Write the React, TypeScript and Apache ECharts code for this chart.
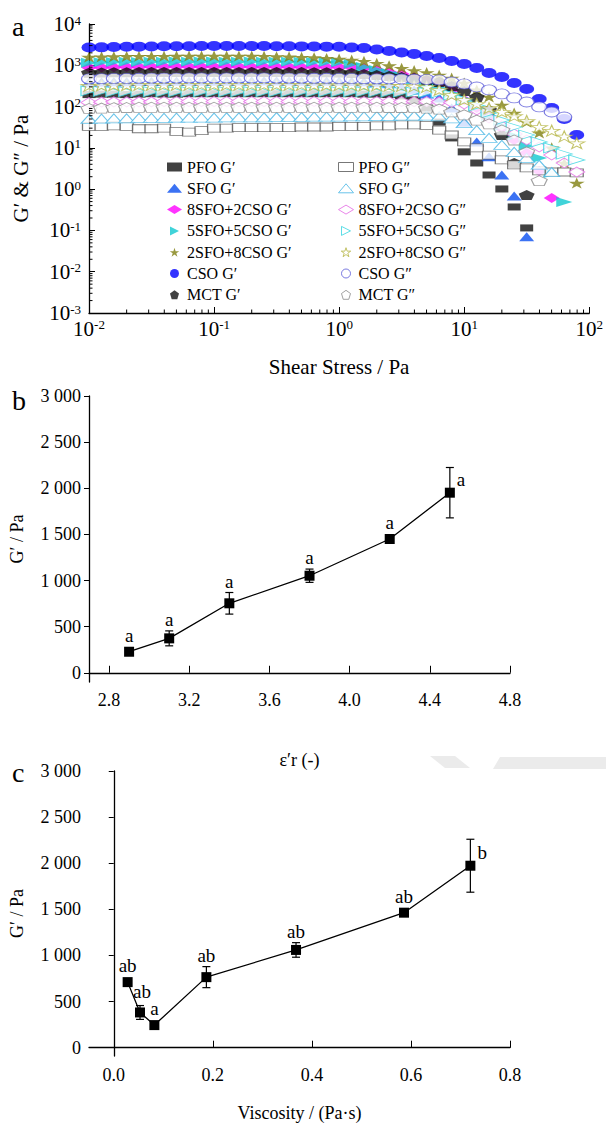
import React, { useEffect, useRef } from "react";
import * as echarts from "echarts";

const FONT = "'Liberation Serif', 'Times New Roman', serif";

// ---------- Panel a : stress sweep ----------
const shearStress = [
  0.01, 0.0126, 0.0158, 0.02, 0.0251, 0.0316, 0.0398, 0.0501, 0.0631, 0.0794,
  0.1, 0.126, 0.158, 0.2, 0.251, 0.316, 0.398, 0.501, 0.631, 0.794,
  1, 1.26, 1.58, 2, 2.51, 3.16, 3.98, 5.01, 6.31, 7.94,
  10, 12.6, 15.8, 20, 25.1, 31.6, 39.8, 50.1, 63.1, 79.4,
];

const pfoG1 = [
  195, 200, 200, 195, 200, 205, 200, 200, 205, 205,
  205, 205, 205, 205, 205, 205, 205, 205, 205, 205,
  205, 205, 200, 200, 195, 181, 145, 92, 42, 17.4,
  8.0, 4.3, 2.2, 1.01, 0.37, 0.115, null, null, null, null,
];
const sfoG1 = [
  390, 395, 400, 400, 405, 405, 410, 410, 410, 410,
  410, 410, 415, 415, 415, 415, 415, 410, 410, 410,
  410, 405, 400, 390, 353, 298, 253, 202, 162, 92,
  42, 13.9, 6.1, 2.2, 0.68, 0.07, null, null, null, null,
];
const s82G1 = [
  880, 890, 900, 910, 910, 920, 920, 920, 920, 920,
  920, 920, 920, 910, 910, 910, 910, 900, 900, 900,
  900, 885, 861, 770, 689, 616, 521, 441, 353, 253,
  145, 92, 56, 30, 15.5, 7.5, 2.76, 0.61, null, null,
];
const s55G1 = [
  1150, 1180, 1200, 1220, 1200, 1210, 1220, 1230, 1220, 1230,
  1230, 1220, 1220, 1230, 1220, 1220, 1210, 1210, 1200, 1200,
  1180, 1075, 910, 770, 651, 551, 441, 353, 282, 213,
  153, 98, 59, 34, 19.4, 11.1, 5.7, 2.47, 0.49, null,
];
const s28G1 = [
  1580, 1600, 1620, 1640, 1650, 1660, 1660, 1670, 1670, 1680,
  1680, 1680, 1670, 1670, 1660, 1620, 1600, 1570, 1530, 1470,
  1420, 1340, 1250, 1120, 980, 850, 750, 670, 582, 493,
  373, 253, 171, 109, 70, 42, 23, 10, 4.3, 1.4,
];
const csoG1 = [
  2700, 2720, 2760, 2800, 2830, 2860, 2880, 2900, 2900, 2920,
  2920, 2930, 2930, 2920, 2920, 2900, 2880, 2870, 2850, 2830,
  2800, 2700, 2620, 2420, 2220, 2040, 1880, 1680, 1500, 1270,
  1075, 860, 651, 521, 373, 267, 153, 92, 50, 20.5,
];
const mctG1 = [
  660, 670, 680, 680, 690, 690, 690, 690, 690, 690,
  690, 690, 690, 690, 690, 690, 690, 685, 680, 680,
  670, 651, 616, 582, 550, 521, 493, 441, 394, 316,
  239, 171, 83, 20.5, 4.3, 0.72, null, null, null, null,
];

const pfoG2 = [
  33, 33, 34, 33, 29, 29, 30, 25, 24, 26,
  30, 30, 31, 31, 31, 31, 31, 32, 32, 32,
  33, 33, 33, 34, 34, 36, 36, 35, 27, 20.5,
  13.9, 10, 6.7, 5.1, 3.86, 3.26, 2.76, 2.6, 2.6, 2.47,
];
const sfoG2 = [
  50, 51, 52, 52, 53, 53, 53, 54, 54, 54,
  54, 55, 55, 55, 55, 56, 56, 56, 57, 57,
  57, 58, 58, 59, 59, 60, 60, 60, 58, 52,
  40, 27, 17.4, 11.8, 8, 5.7, 3.9, 2.6, null, null,
];
const s82G2 = [
  125, 128, 130, 130, 130, 130, 132, 132, 132, 132,
  132, 132, 132, 132, 132, 132, 133, 133, 133, 133,
  133, 133, 133, 133, 133, 133, 132, 132, 130, 126,
  116, 83, 53, 34, 21.7, 15.5, 10.5, 6.7, 4.3, 2.6,
];
const s55G2 = [
  240, 235, 230, 230, 230, 230, 230, 230, 230, 230,
  230, 230, 230, 230, 230, 230, 230, 230, 230, 230,
  230, 230, 230, 228, 226, 225, 224, 222, 215, 191,
  145, 104, 70, 47, 32, 20.5, 13.9, 10, 7.1, 5.1,
];
const s28G2 = [
  320, 325, 330, 330, 335, 335, 335, 335, 335, 335,
  335, 335, 335, 335, 335, 335, 335, 335, 330, 330,
  330, 330, 325, 325, 320, 315, 310, 298, 253, 191,
  145, 116, 92, 74, 59, 45, 32, 26, 19, 13,
];
const csoG2 = [
  470, 475, 480, 480, 485, 490, 490, 490, 495, 495,
  495, 495, 495, 495, 495, 490, 490, 490, 485, 485,
  480, 480, 475, 470, 470, 465, 460, 455, 441, 394,
  353, 298, 253, 202, 162, 129, 98, 74, 56, null,
];
const mctG2 = [
  90, 92, 94, 95, 96, 96, 96, 96, 96, 96,
  96, 96, 96, 96, 96, 96, 96, 96, 96, 96,
  96, 96, 96, 96, 95, 95, 94, 92, 87, 74,
  63, 47, 38, 27, 15.5, 8, 1.6, null, null, null,
];

const decadeTicksX = [-2, -1, 0, 1];
const decadeTicksY = [-3, -2, -1, 0, 1, 2, 3];
const minorMultipliers = [2, 3, 4, 5, 6, 7, 8, 9];

// ---------- Panel b ----------
const epsR = [2.9, 3.1, 3.4, 3.8, 4.2, 4.5];
const gPrimeB = [228, 373, 753, 1052, 1450, 1952];
const errB = [20, 81, 117, 72, 20, 273];
const lettersB = ["a", "a", "a", "a", "a", "a"];
const xTicksB = [2.8, 3.2, 3.6, 4.0, 4.4, 4.8];

// ---------- Panel c ----------
const viscosity = [0.028, 0.053, 0.082, 0.187, 0.368, 0.586, 0.72];
const gPrimeC = [711, 382, 245, 765, 1060, 1464, 1973];
const errC = [20, 75, 20, 114, 79, 20, 287];
const lettersC = ["ab", "ab", "a", "ab", "ab", "ab", "b"];
const xTicksC = [0, 0.2, 0.4, 0.6, 0.8];
const yTicksG = [0, 500, 1000, 1500, 2000, 2500, 3000];

// label placement (not data)
const placeB = ["top", "top", "top", "top", "top", "right"];
const placeC = ["top", "topRight", "top", "top", "top", "top", "right"];

const STAR = "path://M50,0 L61.2,34.5 L97.6,34.5 L68.2,55.9 L79.4,90.5 L50,69.1 L20.6,90.5 L31.8,55.9 L2.4,34.5 L38.8,34.5 Z";
const PENT = "path://M50,0 L100,36 L81,100 L19,100 L0,36 Z";
const ELL = "path://M0,50 A50,50 0 1 1 100,50 A50,50 0 1 1 0,50 Z";
const RTRI = "path://M0,0 L100,50 L0,100 Z";

const seriesG1 = [
  { name: "PFO G\u2032", data: pfoG1, symbol: "rect", size: [13, 7], color: "#111111" },
  { name: "SFO G\u2032", data: sfoG1, symbol: "triangle", size: [15, 9], color: "#0a4ff0" },
  { name: "8SFO+2CSO G\u2032", data: s82G1, symbol: "diamond", size: [16, 10], color: "#ff00ff" },
  { name: "5SFO+5CSO G\u2032", data: s55G1, symbol: RTRI, size: [16, 10], color: "#10c8d0" },
  { name: "2SFO+8CSO G\u2032", data: s28G1, symbol: STAR, size: [16, 11], color: "#7f7f10" },
  { name: "CSO G\u2032", data: csoG1, symbol: ELL, size: [15, 10], color: "#0000ff" },
  { name: "MCT G\u2032", data: mctG1, symbol: PENT, size: [16, 10], color: "#111111" },
];
const seriesG2 = [
  { name: "PFO G\u2033", data: pfoG2, symbol: "rect", size: [13, 8], color: "#555555" },
  { name: "SFO G\u2033", data: sfoG2, symbol: "triangle", size: [16, 9], color: "#45b5e5" },
  { name: "8SFO+2CSO G\u2033", data: s82G2, symbol: "diamond", size: [16, 10], color: "#e466e4" },
  { name: "5SFO+5CSO G\u2033", data: s55G2, symbol: RTRI, size: [16, 10], color: "#35d5e0" },
  { name: "2SFO+8CSO G\u2033", data: s28G2, symbol: STAR, size: [16, 11], color: "#b5b545" },
  { name: "CSO G\u2033", data: csoG2, symbol: ELL, size: [15, 10], color: "#5a5ad8" },
  { name: "MCT G\u2033", data: mctG2, symbol: PENT, size: [16, 10], color: "#8a8a8a" },
];

const sup = (v: number) => `{b|10}{s|${Math.round(Math.log10(v))}}`;
const richSup = {
  b: { fontSize: 21, fontFamily: FONT, color: "#000" },
  s: { fontSize: 13, fontFamily: FONT, color: "#000", verticalAlign: "top" },
};
const thousands = (v: number) =>
  v >= 1000 ? `${Math.floor(v / 1000)} ${String(v % 1000).padStart(3, "0")}` : String(v);

const axisLineStyle = { lineStyle: { color: "#000", width: 1.3 } };
const nameStyle = { fontSize: 18, fontFamily: FONT, color: "#000" };
const nameStyleA = { fontSize: 21, fontFamily: FONT, color: "#000" };
const tickFont = { fontSize: 18, fontFamily: FONT, color: "#000" };

function errSeries(xs: number[], ys: number[], es: number[], letters: string[], place: string[], idx: number) {
  return {
    type: "custom",
    xAxisIndex: idx,
    yAxisIndex: idx,
    silent: true,
    clip: false,
    z: 3,
    data: xs.map((x, i) => [x, ys[i], es[i]]),
    renderItem: (params: any, api: any) => {
      const i = params.dataIndex;
      const x = api.value(0);
      const y = api.value(1);
      const e = api.value(2);
      const p = api.coord([x, y]);
      const t = api.coord([x, y + e]);
      const b = api.coord([x, y - e]);
      const cw = 4;
      const ls = { stroke: "#000", lineWidth: 1.2 };
      const children: any[] = [
        { type: "line", shape: { x1: p[0], y1: t[1], x2: p[0], y2: b[1] }, style: ls },
        { type: "line", shape: { x1: p[0] - cw, y1: t[1], x2: p[0] + cw, y2: t[1] }, style: ls },
        { type: "line", shape: { x1: p[0] - cw, y1: b[1], x2: p[0] + cw, y2: b[1] }, style: ls },
      ];
      const top = Math.min(t[1], p[1] - 5);
      let tx = p[0];
      let ty = top - 2;
      let align = "center";
      let va = "bottom";
      if (place[i] === "right") {
        tx = p[0] + 7;
        ty = p[1] - 13;
        align = "left";
        va = "middle";
      } else if (place[i] === "topRight") {
        tx = p[0] + 2;
        ty = top - 5;
      }
      children.push({
        type: "text",
        style: { text: letters[i], x: tx, y: ty, align, verticalAlign: va, fill: "#000", fontSize: 19, fontFamily: FONT },
      });
      return { type: "group", children };
    },
  };
}

function minorTickSeries() {
  const xs: number[] = [];
  decadeTicksX.forEach((e) => minorMultipliers.forEach((m) => xs.push(m * Math.pow(10, e))));
  const ys: number[] = [];
  decadeTicksY.forEach((e) => minorMultipliers.forEach((m) => ys.push(m * Math.pow(10, e))));
  const st = { stroke: "#000", lineWidth: 1 };
  return [
    {
      type: "custom", xAxisIndex: 0, yAxisIndex: 0, silent: true, clip: false, z: 5,
      data: xs.map((v) => [v, 0.001]),
      renderItem: (_p: any, api: any) => {
        const c = api.coord([api.value(0), api.value(1)]);
        return { type: "line", shape: { x1: c[0], y1: c[1], x2: c[0], y2: c[1] - 3.5 }, style: st };
      },
    },
    {
      type: "custom", xAxisIndex: 0, yAxisIndex: 0, silent: true, clip: false, z: 5,
      data: ys.map((v) => [0.01, v]),
      renderItem: (_p: any, api: any) => {
        const c = api.coord([api.value(0), api.value(1)]);
        return { type: "line", shape: { x1: c[0], y1: c[1], x2: c[0] + 3.5, y2: c[1] }, style: st };
      },
    },
  ];
}

function scatterOf(s: any, open: boolean) {
  return {
    type: "scatter",
    name: s.name,
    xAxisIndex: 0,
    yAxisIndex: 0,
    symbol: s.symbol,
    symbolSize: s.size,
    data: shearStress.map((x, i) => [x, s.data[i]]).filter((d) => d[1] != null),
    itemStyle: open
      ? { color: "#ffffff", borderColor: s.color, borderWidth: 1 }
      : { color: s.color },
    z: open ? 3 : 2,
  };
}

const legendBase = {
  orient: "vertical",
  top: 154,
  itemGap: 5.3,
  itemWidth: 15,
  itemHeight: 9,
  selectedMode: false,
  itemStyle: { borderWidth: 1 },
  textStyle: { fontSize: 16, fontFamily: FONT, color: "#000", lineHeight: 16 },
};

export default function App() {
  const ref = useRef<HTMLDivElement>(null);
  useEffect(() => {
    if (!ref.current) return;
    const chart = echarts.init(ref.current, null, { renderer: "svg" });
    const option: any = {
      animation: false,
      backgroundColor: "#ffffff",
      grid: [
        { left: 89, top: 24, width: 503, height: 289 },
        { left: 89, top: 396, width: 421, height: 286 },
        { left: 89, top: 771, width: 421, height: 285 },
      ],
      legend: [
        { ...legendBase, left: 162, data: seriesG1.map((s) => s.name) },
        { ...legendBase, left: 333, data: seriesG2.map((s) => s.name) },
      ],
      xAxis: [
        {
          gridIndex: 0, type: "log", logBase: 10, min: 0.01, max: 100, splitNumber: 4,
          axisLine: axisLineStyle,
          axisTick: { inside: true, length: 6, lineStyle: { color: "#000" } },
          axisLabel: { margin: 5, formatter: sup, rich: richSup },
          splitLine: { show: false },
          name: "Shear Stress / Pa", nameLocation: "middle", nameGap: 43, nameTextStyle: nameStyleA,
        },
        {
          gridIndex: 1, type: "value", min: 2.7, max: 4.8,
          axisLine: axisLineStyle,
          axisTick: { inside: true, length: 7, customValues: xTicksB, lineStyle: { color: "#000" } },
          axisLabel: { margin: 9, customValues: xTicksB, formatter: (v: number) => v.toFixed(1), ...tickFont },
          splitLine: { show: false },
          name: "\u03b5\u2032r (-)", nameLocation: "middle", nameGap: 69, nameTextStyle: nameStyle,
        },
        {
          gridIndex: 2, type: "value", min: -0.05, max: 0.8,
          axisLine: axisLineStyle,
          axisTick: { inside: true, length: 7, customValues: xTicksC, lineStyle: { color: "#000" } },
          axisLabel: { margin: 10, customValues: xTicksC, formatter: (v: number) => v.toFixed(1), ...tickFont },
          splitLine: { show: false },
          name: "Viscosity / (Pa\u00b7s)", nameLocation: "middle", nameGap: 48, nameTextStyle: nameStyle,
        },
      ],
      yAxis: [
        {
          gridIndex: 0, type: "log", logBase: 10, min: 0.001, max: 10000, splitNumber: 7,
          axisLine: axisLineStyle,
          axisTick: { inside: true, length: 6, lineStyle: { color: "#000" } },
          axisLabel: { margin: 8, formatter: sup, rich: richSup },
          splitLine: { show: false },
          name: "G\u2032 & G\u2033 / Pa", nameLocation: "middle", nameGap: 58, nameTextStyle: nameStyleA,
        },
        {
          gridIndex: 1, type: "value", min: -100, max: 3000,
          axisLine: axisLineStyle,
          axisTick: { length: 5, customValues: yTicksG, lineStyle: { color: "#000" } },
          axisLabel: { margin: 8, customValues: yTicksG, formatter: thousands, ...tickFont },
          splitLine: { show: false },
          name: "G\u2032 / Pa", nameLocation: "middle", nameGap: 63, nameTextStyle: nameStyle,
        },
        {
          gridIndex: 2, type: "value", min: -90, max: 3000,
          axisLine: axisLineStyle,
          axisTick: { length: 5, customValues: yTicksG, lineStyle: { color: "#000" } },
          axisLabel: { margin: 8, customValues: yTicksG, formatter: thousands, ...tickFont },
          splitLine: { show: false },
          name: "G\u2032 / Pa", nameLocation: "middle", nameGap: 63, nameTextStyle: nameStyle,
        },
      ],
      graphic: [
        { type: "text", left: 12, top: 12, style: { text: "a", fontSize: 28, fontFamily: FONT, fill: "#000" } },
        { type: "text", left: 12, top: 386, style: { text: "b", fontSize: 28, fontFamily: FONT, fill: "#000" } },
        { type: "text", left: 12, top: 758, style: { text: "c", fontSize: 28, fontFamily: FONT, fill: "#000" } },
        { type: "polygon", silent: true, shape: { points: [[430, 756], [455, 756], [470, 768], [445, 768]] }, style: { fill: "#ebebeb" } },
        { type: "polygon", silent: true, shape: { points: [[500, 757], [606, 757], [606, 769], [493, 769]] }, style: { fill: "#ebebeb" } },
      ],
      series: [
        ...seriesG1.map((s) => scatterOf(s, false)),
        ...seriesG2.map((s) => scatterOf(s, true)),
        ...minorTickSeries(),
        {
          type: "line", xAxisIndex: 1, yAxisIndex: 1, symbol: "rect", symbolSize: 10,
          data: epsR.map((x, i) => [x, gPrimeB[i]]),
          itemStyle: { color: "#000" }, lineStyle: { color: "#000", width: 1.3 }, z: 4,
        },
        errSeries(epsR, gPrimeB, errB, lettersB, placeB, 1),
        {
          type: "line", xAxisIndex: 2, yAxisIndex: 2, symbol: "rect", symbolSize: 10,
          data: viscosity.map((x, i) => [x, gPrimeC[i]]),
          itemStyle: { color: "#000" }, lineStyle: { color: "#000", width: 1.3 }, z: 4,
        },
        errSeries(viscosity, gPrimeC, errC, lettersC, placeC, 2),
      ],
    };
    chart.setOption(option);
    return () => chart.dispose();
  }, []);
  return (
    <div
      ref={ref}
      style={{ position: "absolute", left: 0, top: 0, width: 606, height: 1124, background: "#fff" }}
    />
  );
}
